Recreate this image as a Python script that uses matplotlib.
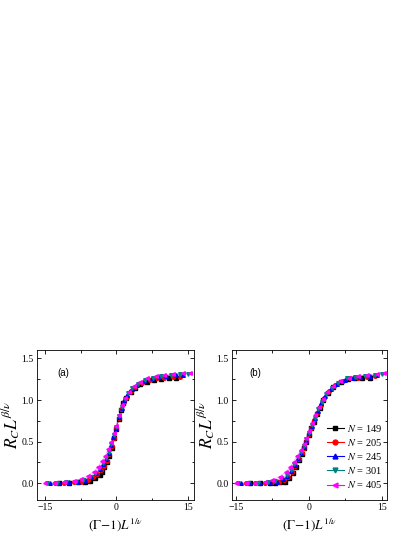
import matplotlib
matplotlib.use('Agg')
import matplotlib.pyplot as plt
from matplotlib.ticker import MultipleLocator, FormatStrFormatter

plt.rcParams['font.family'] = ['Liberation Serif', 'DejaVu Serif']
plt.rcParams['mathtext.fontset'] = 'stix'

tailles = [149, 205, 245, 301, 405]
couleurs = ['black', 'red', 'blue', '#008080', 'magenta']
marqueurs = ['s', 'o', '^', 'v', '<']

# Panneau (a)
xa149 = [-12, -10, -8, -6.5, -5.5, -4.5, -3.5, -3, -2.5, -2, -1.5, -1, -0.5, 0, 0.5, 1, 1.5, 2, 3, 4, 5, 6.5, 8, 9.5, 11, 12.5]
ya149 = [0.0, 0.0, 0.01, 0.02, 0.03, 0.06, 0.10, 0.14, 0.19, 0.25, 0.33, 0.43, 0.54, 0.65, 0.77, 0.88, 0.96, 1.02, 1.10, 1.15, 1.19, 1.22, 1.24, 1.25, 1.26, 1.27]
xa205 = [-13, -11, -9, -7.5, -6, -5, -4, -3.2, -2.6, -2, -1.5, -1, -0.5, 0, 0.5, 1, 1.6, 2.2, 3, 4, 5.5, 7, 8.5, 10, 12, 13.5]
ya205 = [0.0, 0.0, 0.01, 0.02, 0.04, 0.07, 0.11, 0.16, 0.21, 0.27, 0.35, 0.45, 0.55, 0.66, 0.78, 0.89, 0.98, 1.04, 1.11, 1.16, 1.21, 1.24, 1.26, 1.27, 1.28, 1.28]
xa245 = [-14, -12, -10, -8, -6.5, -5.3, -4.2, -3.4, -2.7, -2.1, -1.6, -1.1, -0.6, 0, 0.6, 1.1, 1.7, 2.3, 3.2, 4.3, 5.8, 7.5, 9, 10.5, 12.5, 14]
ya245 = [0.0, 0.0, 0.01, 0.02, 0.04, 0.07, 0.12, 0.17, 0.23, 0.29, 0.37, 0.46, 0.56, 0.67, 0.80, 0.91, 1.00, 1.06, 1.13, 1.18, 1.23, 1.26, 1.28, 1.29, 1.30, 1.30]
xa301 = [-14.5, -12.5, -10.5, -8.5, -7, -5.6, -4.5, -3.6, -2.8, -2.2, -1.6, -1.1, -0.5, 0, 0.6, 1.2, 1.8, 2.5, 3.4, 4.5, 6, 7.8, 9.5, 11.5, 13.5, 15]
ya301 = [0.0, 0.0, 0.01, 0.02, 0.04, 0.08, 0.12, 0.18, 0.24, 0.30, 0.38, 0.47, 0.58, 0.68, 0.81, 0.92, 1.01, 1.08, 1.14, 1.19, 1.24, 1.27, 1.29, 1.30, 1.31, 1.31]
xa405 = [-15, -13, -11, -9, -7.5, -6, -4.8, -3.8, -3, -2.3, -1.7, -1.1, -0.5, 0, 0.6, 1.2, 1.9, 2.7, 3.7, 5, 6.5, 8.3, 10, 12, 14, 15.5]
ya405 = [0.0, 0.0, 0.01, 0.03, 0.05, 0.09, 0.14, 0.20, 0.27, 0.33, 0.41, 0.50, 0.60, 0.69, 0.82, 0.94, 1.03, 1.10, 1.17, 1.22, 1.26, 1.29, 1.30, 1.31, 1.32, 1.32]

# Panneau (b)
xb149 = [-12, -10, -8, -7, -6, -5, -4, -3.3, -2.6, -2, -1.5, -1, -0.5, 0, 0.5, 1, 1.6, 2.2, 3, 4, 5, 6.5, 8, 9.5, 11, 12.5]
yb149 = [0.0, 0.0, 0.0, 0.0, 0.01, 0.02, 0.06, 0.12, 0.20, 0.28, 0.35, 0.42, 0.50, 0.58, 0.66, 0.74, 0.83, 0.91, 1.00, 1.09, 1.16, 1.22, 1.25, 1.26, 1.27, 1.27]
xb205 = [-13, -11, -9, -7.5, -6.2, -5.2, -4.3, -3.5, -2.8, -2.1, -1.5, -1, -0.5, 0, 0.5, 1.1, 1.7, 2.4, 3.2, 4.2, 5.4, 7, 8.5, 10, 12, 13.5]
yb205 = [0.0, 0.0, 0.0, 0.01, 0.02, 0.04, 0.08, 0.14, 0.21, 0.29, 0.36, 0.43, 0.51, 0.59, 0.67, 0.76, 0.85, 0.94, 1.03, 1.11, 1.18, 1.23, 1.26, 1.27, 1.28, 1.29]
xb245 = [-14, -12, -10, -8, -6.5, -5.4, -4.5, -3.6, -2.9, -2.2, -1.6, -1.1, -0.5, 0, 0.6, 1.2, 1.8, 2.5, 3.4, 4.5, 5.8, 7.5, 9, 10.5, 12.5, 14]
yb245 = [0.0, 0.0, 0.0, 0.01, 0.02, 0.05, 0.09, 0.15, 0.22, 0.30, 0.37, 0.44, 0.52, 0.60, 0.69, 0.78, 0.87, 0.96, 1.05, 1.13, 1.19, 1.24, 1.27, 1.28, 1.29, 1.30]
xb301 = [-14.5, -12.5, -10.5, -8.5, -7, -5.7, -4.6, -3.7, -3, -2.3, -1.7, -1.1, -0.5, 0, 0.6, 1.2, 1.9, 2.7, 3.6, 4.7, 6, 7.8, 9.5, 11.5, 13.5, 15]
yb301 = [0.0, 0.0, 0.0, 0.01, 0.03, 0.06, 0.10, 0.16, 0.23, 0.31, 0.38, 0.45, 0.53, 0.61, 0.70, 0.79, 0.89, 0.98, 1.07, 1.15, 1.21, 1.26, 1.28, 1.29, 1.30, 1.31]
xb405 = [-15, -13, -11, -9, -7.5, -6, -4.8, -3.9, -3.1, -2.4, -1.7, -1.1, -0.5, 0, 0.6, 1.3, 2, 2.8, 3.8, 5, 6.4, 8.2, 10, 12, 14, 15.5]
yb405 = [0.0, 0.0, 0.0, 0.01, 0.04, 0.08, 0.13, 0.19, 0.26, 0.33, 0.40, 0.47, 0.55, 0.63, 0.72, 0.82, 0.92, 1.01, 1.10, 1.17, 1.23, 1.27, 1.29, 1.30, 1.31, 1.32]

donneesA = [(xa149, ya149), (xa205, ya205), (xa245, ya245), (xa301, ya301), (xa405, ya405)]
donneesB = [(xb149, yb149), (xb205, yb205), (xb245, yb245), (xb301, yb301), (xb405, yb405)]

fig = plt.figure(figsize=(4.15, 5.37), dpi=100, facecolor='white')
axA = fig.add_axes([0.089, 0.069, 0.378, 0.279])
axB = fig.add_axes([0.559, 0.069, 0.373, 0.279])

for ax, donnees, lettre, xlettre, xlim in [(axA, donneesA, '(a)', 0.13, (-16.7, 16.3)),
                                           (axB, donneesB, '(b)', 0.11, (-15.8, 16.0))]:
    for (x, y), n, c, m in zip(donnees, tailles, couleurs, marqueurs):
        ax.plot(x, y, '-', color=c, alpha=0.3, lw=0.8, zorder=2)
        ax.plot(x, y, linestyle='none', marker=m, color=c, ms=2.6,
                mec=c, zorder=3)
        # entrée de légende (ligne + marqueur)
        ax.plot([], [], '-', color=c, lw=0.8, alpha=1, marker=m, ms=3.5,
                label=r'$N$ = %d' % n)
    ax.set_xlim(*xlim)
    ax.set_ylim(-0.2, 1.6)
    ax.xaxis.set_major_locator(MultipleLocator(15))
    ax.xaxis.set_minor_locator(MultipleLocator(7.5))
    ax.yaxis.set_major_locator(MultipleLocator(0.5))
    ax.yaxis.set_minor_locator(MultipleLocator(0.25))
    ax.yaxis.set_major_formatter(FormatStrFormatter('%.1f'))
    ax.tick_params(which='both', direction='in', top=True, right=True,
                   labelsize=7, width=0.6, pad=2.5)
    ax.tick_params(which='major', length=3)
    ax.tick_params(which='minor', length=1.8)
    for sp in ax.spines.values():
        sp.set_linewidth(0.6)
    ax.set_xlabel(r'$(\Gamma\!-\!1)L^{1/\nu}$', fontsize=9.5, labelpad=3)
    ax.set_ylabel(r'$R_C L^{\beta/\nu}$', fontsize=12.5, labelpad=-1)
    ax.text(xlettre, 0.83, lettre, transform=ax.transAxes, fontsize=7,
            family='Liberation Sans')

axB.legend(loc='center right', bbox_to_anchor=(1.03, 0.29), frameon=False,
           fontsize=7.5, handlelength=1.6, handletextpad=0.3, labelspacing=0.3)

fig.savefig('out.png', dpi=100, facecolor='white')
plt.close()
